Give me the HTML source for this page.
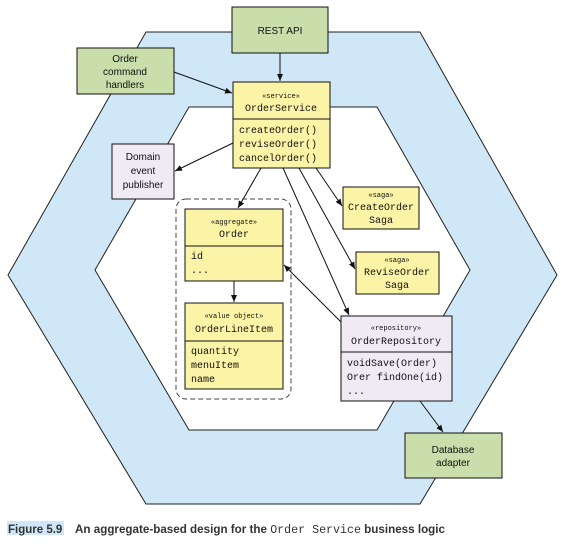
<!DOCTYPE html>
<html><head><meta charset="utf-8"><style>
html,body{margin:0;padding:0;background:#fff;}
svg{display:block;}
.m{font-family:"Liberation Mono",monospace;font-size:10px;fill:#111;}
.s{font-family:"Liberation Mono",monospace;font-size:7px;fill:#111;}
.a{font-family:"Liberation Sans",sans-serif;font-size:10px;fill:#111;}
</style></head><body>
<svg width="561" height="546" viewBox="0 0 561 546" xmlns="http://www.w3.org/2000/svg">
<defs><marker id="ar" markerWidth="8" markerHeight="8" refX="7" refY="3" orient="auto" markerUnits="userSpaceOnUse"><path d="M0,0 L7,3 L0,6 z" fill="#111"/></marker></defs>
<polygon points="146,32 420,32 557,275 420,504 146,504 8,275" fill="#cfe7f7" stroke="#222" stroke-width="1"/>
<polygon points="189,107 377,107 470,270 377,430 189,430 95,270" fill="#fff" stroke="#222" stroke-width="1"/>
<g stroke="#111" stroke-width="1" fill="none">
<line x1="280" y1="53" x2="280" y2="81" marker-end="url(#ar)"/>
<line x1="174" y1="72" x2="232" y2="93" marker-end="url(#ar)"/>
<line x1="233" y1="143" x2="175" y2="171" marker-end="url(#ar)"/>
<line x1="261" y1="168" x2="238" y2="208" marker-end="url(#ar)"/>
<line x1="316" y1="168" x2="342" y2="206" marker-end="url(#ar)"/>
<line x1="299" y1="168" x2="355" y2="269" marker-end="url(#ar)"/>
<line x1="283" y1="168" x2="349" y2="315" marker-end="url(#ar)"/>
<line x1="341" y1="322" x2="284" y2="265" marker-end="url(#ar)"/>
<line x1="234" y1="281" x2="234" y2="302" marker-end="url(#ar)"/>
<line x1="420" y1="401" x2="443" y2="432" marker-end="url(#ar)"/>
</g>
<rect x="232" y="7" width="96" height="46" fill="#c9deaa" stroke="#111"/>
<text class="a" x="280" y="34" text-anchor="middle">REST API</text>
<rect x="77" y="48" width="97" height="46" fill="#c9deaa" stroke="#111"/>
<text class="a" x="125" y="62" text-anchor="middle">Order</text>
<text class="a" x="125" y="75" text-anchor="middle">command</text>
<text class="a" x="125" y="88" text-anchor="middle">handlers</text>
<rect x="233" y="82" width="97" height="86" fill="#fbf3a6" stroke="#111"/>
<line x1="233" y1="119" x2="330" y2="119" stroke="#111"/>
<text class="s" x="281" y="98" text-anchor="middle">«service»</text>
<text class="m" x="281" y="111" text-anchor="middle">OrderService</text>
<text class="m" x="239" y="133">createOrder()</text>
<text class="m" x="239" y="147">reviseOrder()</text>
<text class="m" x="239" y="161">cancelOrder()</text>
<rect x="112" y="144" width="62" height="55" fill="#efeaf4" stroke="#111"/>
<text class="a" x="143" y="160" text-anchor="middle">Domain</text>
<text class="a" x="143" y="174" text-anchor="middle">event</text>
<text class="a" x="143" y="188" text-anchor="middle">publisher</text>
<rect x="176" y="199" width="115" height="200" rx="10" fill="none" stroke="#444" stroke-dasharray="5,3"/>
<rect x="185" y="209" width="98" height="72" fill="#fbf3a6" stroke="#111"/>
<line x1="185" y1="246" x2="283" y2="246" stroke="#111"/>
<text class="s" x="234" y="224" text-anchor="middle">«aggregate»</text>
<text class="m" x="234" y="237" text-anchor="middle">Order</text>
<text class="m" x="191" y="259">id</text>
<text class="m" x="191" y="273">...</text>
<rect x="185" y="303" width="98" height="86" fill="#fbf3a6" stroke="#111"/>
<line x1="185" y1="341" x2="283" y2="341" stroke="#111"/>
<text class="s" x="234" y="318" text-anchor="middle">«value object»</text>
<text class="m" x="234" y="332" text-anchor="middle">OrderLineItem</text>
<text class="m" x="191" y="354">quantity</text>
<text class="m" x="191" y="368">menuItem</text>
<text class="m" x="191" y="382">name</text>
<rect x="343" y="187" width="76" height="42" fill="#fbf3a6" stroke="#111"/>
<text class="s" x="381" y="197" text-anchor="middle">«saga»</text>
<text class="m" x="381" y="210" text-anchor="middle">CreateOrder</text>
<text class="m" x="381" y="223" text-anchor="middle">Saga</text>
<rect x="356" y="252" width="83" height="42" fill="#fbf3a6" stroke="#111"/>
<text class="s" x="397" y="262" text-anchor="middle">«saga»</text>
<text class="m" x="397" y="275" text-anchor="middle">ReviseOrder</text>
<text class="m" x="397" y="288" text-anchor="middle">Saga</text>
<rect x="341" y="316" width="111" height="85" fill="#efeaf4" stroke="#111"/>
<line x1="341" y1="352" x2="452" y2="352" stroke="#111"/>
<text class="s" x="396" y="330" text-anchor="middle">«repository»</text>
<text class="m" x="396" y="344" text-anchor="middle">OrderRepository</text>
<text class="m" x="347" y="366">voidSave(Order)</text>
<text class="m" x="347" y="380">Orer findOne(id)</text>
<text class="m" x="347" y="394">...</text>
<rect x="405" y="433" width="97" height="45" fill="#c9deaa" stroke="#111"/>
<text class="a" x="453" y="453" text-anchor="middle">Database</text>
<text class="a" x="453" y="466" text-anchor="middle">adapter</text>
<rect x="7" y="521" width="57" height="14" fill="#cfe7f7"/>
<text x="8" y="533" font-family="Liberation Sans,sans-serif" font-size="11.5" font-weight="bold" fill="#333">Figure 5.9</text>
<text x="75" y="533" font-family="Liberation Sans,sans-serif" font-size="11.5" font-weight="bold" fill="#333" textLength="370" lengthAdjust="spacingAndGlyphs">An aggregate-based design for the <tspan font-family="Liberation Mono,monospace" font-weight="normal">Order Service</tspan> business logic</text>
</svg>
</body></html>
